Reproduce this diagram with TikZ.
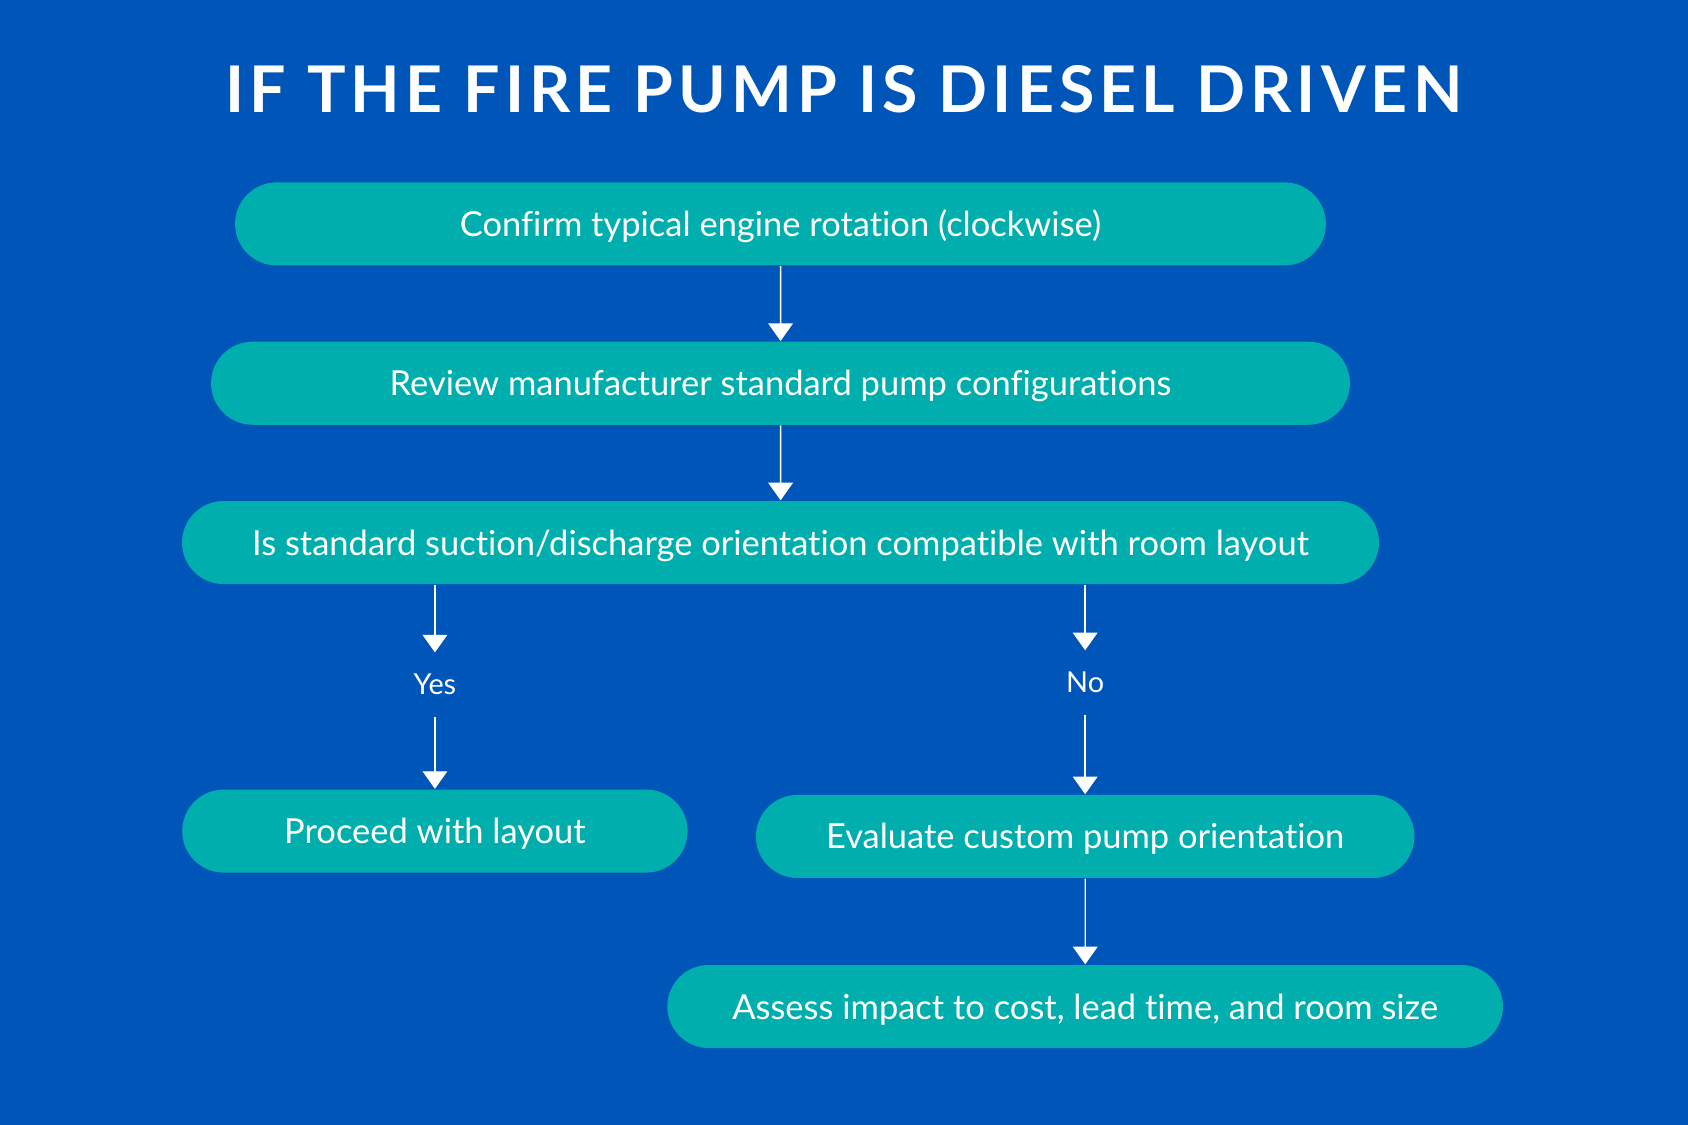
\documentclass[tikz,border=0pt]{standalone}
\usepackage{fontspec}
\setmainfont[Ligatures=NoCommon]{Lato}
\usetikzlibrary{shapes.misc,arrows.meta}
\definecolor{bgblue}{HTML}{0055B8}
\definecolor{teal}{HTML}{00AEAE}
\tikzstyle{box}=[rounded rectangle,fill=teal,text=white,minimum height=0.83cm,inner sep=0pt,text height=1.5ex,text depth=0.1ex,font=\fontsize{9.8}{12}\selectfont]
\tikzstyle{lbl}=[text=white,inner sep=6pt,font=\fontsize{8.2}{10}\selectfont]
\tikzstyle{arr}=[draw=white,thin,-{Triangle[width=7pt,length=5pt]}]

\begin{document}
\begin{tikzpicture}[x=0.010765cm,y=-0.010765cm]
\fill[bgblue] (0,0) rectangle (1568,1045);
\node[text=white,font=\fontsize{18.3}{22}\selectfont\bfseries\addfontfeature{LetterSpace=8}] (title) at (784,83) {IF THE FIRE PUMP IS DIESEL DRIVEN};
% steps
\node[box,minimum width=10.9cm] (confirm) at (725,208) {Confirm typical engine rotation (clockwise)};
\node[box,minimum width=11.38cm] (review) at (725,356) {Review manufacturer standard pump configurations};
\node[box,minimum width=11.96cm] (compat) at (725,504) {Is standard suction/discharge orientation compatible with room layout};
\node[box,minimum width=5.05cm] (proceed) at (404,772) {Proceed with layout};
\node[box,minimum width=6.58cm] (custom) at (1008,777) {Evaluate custom pump orientation};
\node[box,minimum width=8.35cm] (assess) at (1008,935) {Assess impact to cost, lead time, and room size};
% answers
\node[lbl] (yes) at (404,636) {Yes};
\node[lbl] (no) at (1008,634) {No};
% connectors
\draw[arr] (confirm) -- (review);
\draw[arr] (review) -- (compat);
\draw[arr] (compat.south -| yes) -- (yes.north);
\draw[arr] (yes.south) -- (proceed.north);
\draw[arr] (compat.south -| no) -- (no.north);
\draw[arr] (no.south) -- (custom.north);
\draw[arr] (custom) -- (assess);
\end{tikzpicture}
\end{document}
